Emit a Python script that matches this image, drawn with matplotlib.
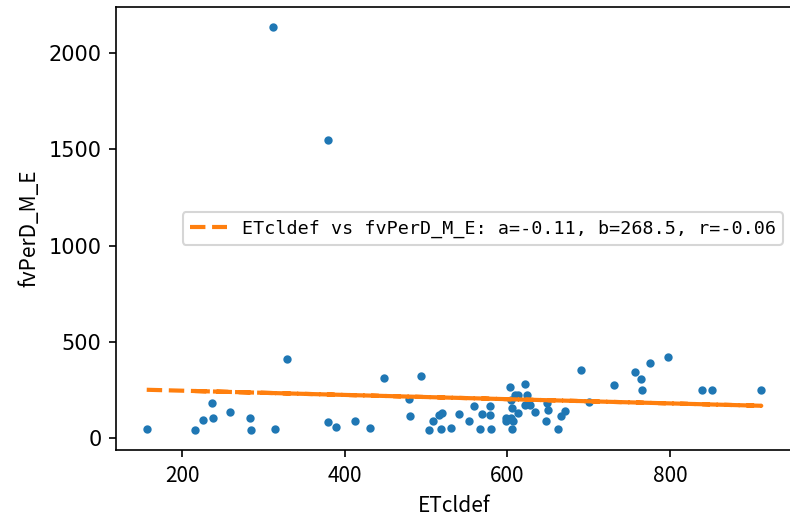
import numpy as np
import matplotlib
matplotlib.use("Agg")
import matplotlib.pyplot as plt
from matplotlib.ticker import MultipleLocator

# ETcldef (x) and fvPerD_M_E (y)
etcldef = [156.6, 215.6, 225.9, 237.3, 238.5, 259.0, 283.3, 284.9, 314.8, 329.5,
           312.3, 380.0,
           379.2, 389.4, 413.1, 430.8, 448.0, 478.8, 480.8, 494.0, 503.4, 509.0,
           516.0, 519.7, 518.1, 530.8, 540.6, 553.3, 558.7, 566.0, 568.9, 578.8,
           578.8, 580.0, 598.0, 598.0, 603.0, 604.6, 606.2, 604.6, 607.4, 606.2,
           610.0, 612.8, 612.8, 621.4, 624.6, 622.2, 628.0, 634.0, 647.6, 648.8,
           649.7, 662.4, 666.0, 670.6, 691.0, 700.0,
           731.6, 757.0, 764.8, 765.6, 775.5, 797.2, 839.0, 852.1, 912.3]
fvperd = [46.7, 44.6, 93.0, 180.0, 104.0, 138.0, 105.0, 43.0, 47.0, 413.0,
          2135.0, 1549.0,
          85.0, 60.0, 91.0, 52.0, 315.0, 204.0, 116.0, 322.0, 43.0, 90.0,
          121.0, 131.0, 47.0, 55.0, 126.0, 91.0, 169.0, 47.0, 128.0, 166.0,
          121.0, 47.0, 107.0, 91.0, 266.0, 199.0, 156.0, 104.0, 91.0, 45.0,
          223.0, 223.0, 130.0, 283.0, 225.0, 171.0, 171.0, 138.0, 91.0, 185.0,
          147.0, 47.0, 116.0, 140.0, 356.0, 190.0,
          277.0, 343.0, 306.0, 249.0, 391.0, 420.0, 249.0, 249.0, 249.0]

# fit values as printed in the legend
fit_a = -0.11
fit_b = 268.5
fit_r = -0.06

plt.rcParams["font.family"] = ["Noto Sans CJK SC", "DejaVu Sans"]

x = np.array(etcldef)
y = np.array(fvperd)

fig = plt.figure(figsize=(790 / 150, 514 / 150), dpi=150)
ax = fig.add_axes([116 / 790, 64 / 514, (792 - 116) / 790, 443 / 514])

ax.plot(x, y, ".")
# unsorted order, like the raw data: dashes overlap into a near-solid line
xl = np.concatenate([x[::2], x[1::2][::-1]])
ax.plot(xl, fit_a * xl + fit_b, "--", lw=2,
        label=f"ETcldef vs fvPerD_M_E: a={fit_a}, b={fit_b}, r={fit_r}")

ax.xaxis.set_major_locator(MultipleLocator(200))
ax.set_xlabel("ETcldef")
ax.set_ylabel("fvPerD_M_E")
for lab in ax.get_yticklabels():
    lab.set_family("DejaVu Sans")
ax.legend(loc="center right", prop={"family": "DejaVu Sans Mono", "size": 8.8})

fig.savefig("out.png", dpi=150)
